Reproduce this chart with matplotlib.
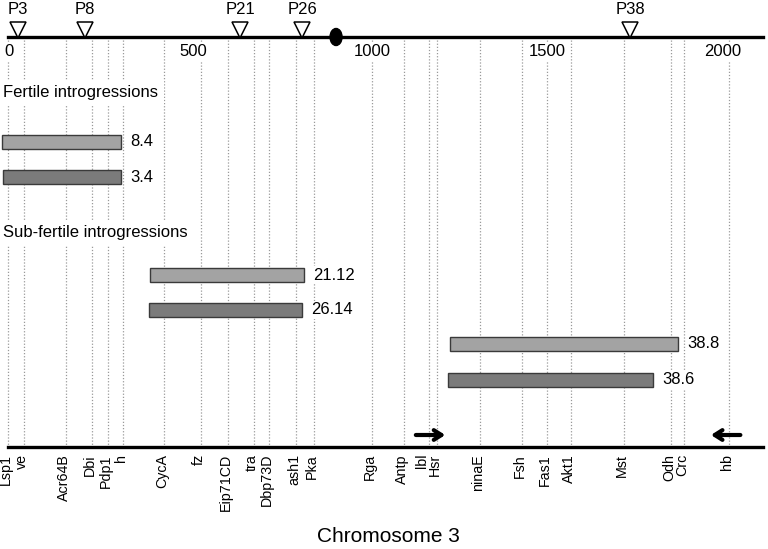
import matplotlib.pyplot as plt
from matplotlib.patches import Ellipse

plt.rcParams['font.family'] = ['Liberation Sans', 'DejaVu Sans']

# gene markers along chromosome 3 (map units)
genes = ['Lsp1', 've', 'Acr64B', 'Dbi', 'Pdp1', 'h', 'CycA', 'fz', 'Eip71CD', 'tra',
         'Dbp73D', 'ash1', 'Pka', 'Rga', 'Antp', 'lbl', 'Hsr', 'ninaE', 'Fsh', 'Fas1',
         'Akt1', 'Mst', 'Odh', 'Crc', 'hb']
gene_pos = [0, 46, 166, 240, 286, 329, 446, 551, 629, 703,
            746, 823, 874, 1040, 1131, 1203, 1226, 1349, 1469, 1540,
            1609, 1760, 1894, 1931, 2060]

# P-element insertion sites
p_names = ['P3', 'P8', 'P21', 'P26', 'P38']
p_pos = [29, 220, 663, 840, 1777]

centromere = 937
chrom_end = 2157
ticks = [0, 500, 1000, 1500, 2000]

# introgression segments: (start, end, label)
fertile_start = [-17, -14]
fertile_end = [323, 323]
fertile_lab = ['8.4', '3.4']
sub_start = [406, 403, 1263, 1257]
sub_end = [846, 840, 1914, 1843]
sub_lab = ['21.12', '26.14', '38.8', '38.6']

light = '#a3a3a3'
dark = '#7b7b7b'

fig = plt.figure(figsize=(7.68, 5.49), dpi=100)
ax = fig.add_axes([0, 0, 1, 1])
ax.set_xlim(-23, 2171)
ax.set_ylim(549, 0)
ax.axis('off')

px = 0.35  # pixels per map unit, for sizing

# dotted gene lines
ax.vlines(gene_pos, 40, 446, colors='#9a9a9a', linestyles=(0, (1, 1.5)), lw=0.9, zorder=1)

# chromosome lines
ax.plot([0, chrom_end], [37, 37], color='black', lw=2.4, zorder=3)
ax.plot([0, chrom_end], [447, 447], color='black', lw=2.4, zorder=3)
ax.add_patch(Ellipse((centromere, 37), 12 / px, 17, color='black', zorder=4))

# P insertion triangles
ax.plot(p_pos, [30] * len(p_pos), 'v', ms=11.5, mfc='white', mec='black', mew=1.1, zorder=5)
for name, x in zip(p_names, p_pos):
    ax.text(x, 10, name, ha='center', va='center', fontsize=12, zorder=5)

# scale ticks
for t in ticks:
    ax.text(t - 4 / px, 52, str(t), ha='left', va='center', fontsize=12,
            bbox=dict(fc='white', ec='none', pad=1), zorder=4)

# section titles
ax.text(3 / px - 23, 93, 'Fertile introgressions', ha='left', va='center', fontsize=12,
        bbox=dict(fc='white', ec='none', pad=4), zorder=4)
ax.text(3 / px - 23, 233, 'Sub-fertile introgressions', ha='left', va='center', fontsize=12,
        bbox=dict(fc='white', ec='none', pad=4), zorder=4)

# bars
def draw_bars(starts, ends, labels, rows):
    for i, (s, e, lab, y) in enumerate(zip(starts, ends, labels, rows)):
        col = light if i % 2 == 0 else dark
        ax.barh(y, e - s, left=s, height=14, color=col, edgecolor='#3a3a3a', lw=1, zorder=5)
        ax.text(e + 9 / px, y, lab, ha='left', va='center', fontsize=12,
                bbox=dict(fc='white', ec='none', pad=1), zorder=5)

draw_bars(fertile_start, fertile_end, fertile_lab, [142, 177])
draw_bars(sub_start, sub_end, sub_lab, [275, 310, 344, 380])

# arrows
arr = dict(arrowstyle='->,head_length=0.55,head_width=0.35', color='black', lw=3)
ax.annotate('', xy=(1257, 435), xytext=(1157, 435), arrowprops=arr, zorder=6)
ax.annotate('', xy=(2000, 435), xytext=(2100, 435), arrowprops=arr, zorder=6)

# gene labels (lbl nudged left so it clears Hsr)
for name, x in zip(genes, gene_pos):
    shift = 7 if name == 'lbl' else 2
    ax.text(x - shift / px, 454, name, rotation=90, ha='center', va='top', fontsize=10.3)

ax.text(388 / px - 23, 537, 'Chromosome 3', ha='center', va='center', fontsize=15)

fig.savefig('out.png', dpi=100)
